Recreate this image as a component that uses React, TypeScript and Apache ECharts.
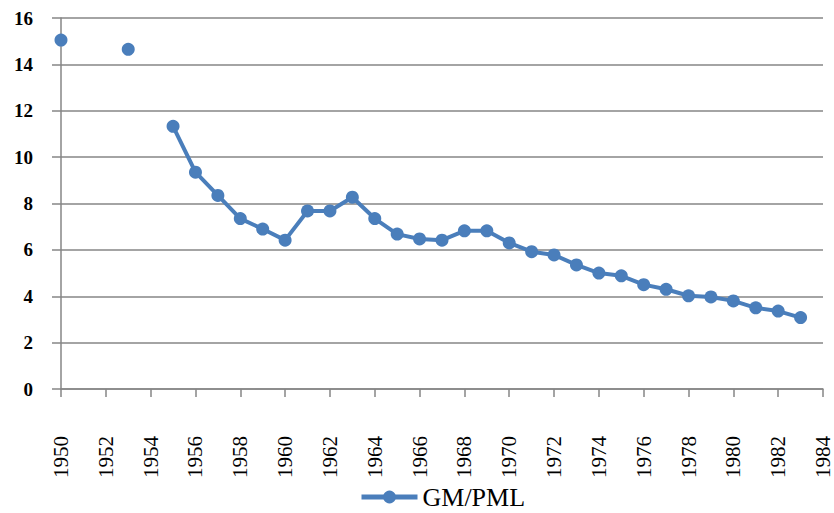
import React, { useEffect, useRef } from "react";
import * as echarts from "echarts";

const years: string[] = [];
for (let y = 1950; y <= 1984; y++) years.push(String(y));

const seriesName = "GM/PML";
const values: (number | null)[] = [
  15.05, null, null, 14.65, null, 11.33, 9.35, 8.35, 7.35, 6.9,
  6.42, 7.68, 7.68, 8.27, 7.35, 6.68, 6.47, 6.42, 6.82, 6.82,
  6.3, 5.92, 5.78, 5.35, 5.0, 4.88, 4.5, 4.3, 4.02, 3.97,
  3.8, 3.5, 3.36, 3.08, null,
];

const FONT = "'Liberation Serif', 'DejaVu Serif', serif";

export default function App() {
  const ref = useRef<HTMLDivElement>(null);
  useEffect(() => {
    if (!ref.current) return;
    const chart = echarts.init(ref.current, undefined, { renderer: "svg" });
    chart.setOption({
      animation: false,
      grid: { left: 61, right: 11, top: 18, bottom: 124, containLabel: false },
      legend: {
        bottom: -2,
        left: 354,
        itemWidth: 56,
        itemHeight: 16,
        itemGap: 4,
        lineStyle: { width: 5 },
        textStyle: { fontFamily: FONT, fontSize: 26, color: "#000" },
        data: [seriesName],
      },
      xAxis: {
        type: "category",
        data: years,
        boundaryGap: false,
        axisLine: { lineStyle: { color: "#868686", width: 1.5 } },
        axisTick: { interval: 1, length: 8, lineStyle: { color: "#868686", width: 1.5 } },
        axisLabel: {
          interval: 1,
          rotate: 90,
          margin: 47,
          fontFamily: FONT,
          fontSize: 21,
          color: "#000",
        },
        splitLine: { show: false },
      },
      yAxis: {
        type: "value",
        min: 0,
        max: 16,
        interval: 2,
        axisLine: { show: true, lineStyle: { color: "#868686", width: 1.5 } },
        axisTick: { show: true, length: 9, lineStyle: { color: "#868686", width: 1.5 } },
        axisLabel: {
          margin: 28,
          fontFamily: FONT,
          fontSize: 19,
          fontWeight: "bold",
          color: "#000",
        },
        splitLine: { lineStyle: { color: "#868686", width: 1.5 } },
      },
      series: [
        {
          name: seriesName,
          type: "line",
          data: values,
          connectNulls: false,
          symbol: "circle",
          symbolSize: 13,
          showAllSymbol: true,
          lineStyle: { color: "#4A7EBB", width: 4 },
          itemStyle: { color: "#4A7EBB" },
        },
      ],
    });
    return () => chart.dispose();
  }, []);
  return (
    <div
      ref={ref}
      style={{ position: "absolute", left: 0, top: 0, width: 834, height: 513 }}
    />
  );
}
